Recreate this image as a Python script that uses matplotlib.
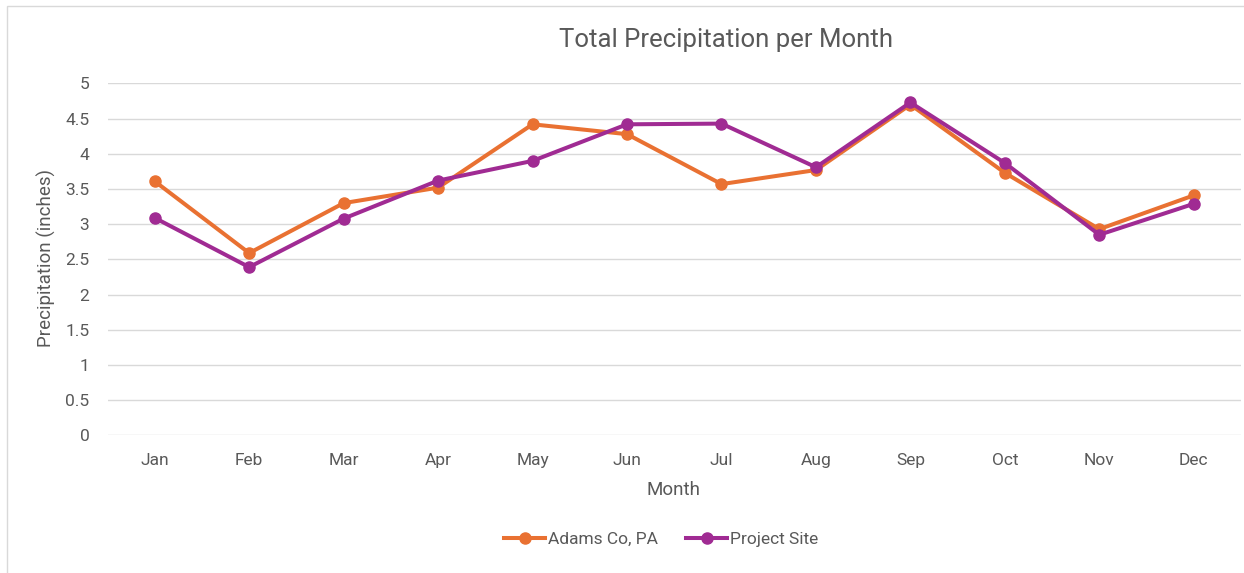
import matplotlib
matplotlib.use("Agg")
import matplotlib.pyplot as plt
from matplotlib.patches import Rectangle

months = ["Jan", "Feb", "Mar", "Apr", "May", "Jun", "Jul", "Aug", "Sep", "Oct", "Nov", "Dec"]
adams = [3.61, 2.59, 3.30, 3.52, 4.42, 4.28, 3.57, 3.77, 4.70, 3.73, 2.93, 3.41]
project = [3.09, 2.39, 3.08, 3.62, 3.90, 4.42, 4.43, 3.81, 4.73, 3.87, 2.85, 3.29]
yticks = [0, 0.5, 1, 1.5, 2, 2.5, 3, 3.5, 4, 4.5, 5]
ytick_labels = ["0", "0.5", "1", "1.5", "2", "2.5", "3", "3.5", "4", "4.5", "5"]

plt.rcParams['font.family'] = ['Roboto', 'DejaVu Sans']
txt = '#595959'

W, H = 1244, 573
fig = plt.figure(figsize=(W / 100, H / 100), dpi=100)
fig.patches.append(Rectangle((7 / W, -0.1), 1.2, (573 - 6) / H + 0.1, transform=fig.transFigure,
                             fill=False, edgecolor='#d9d9d9', linewidth=1))

ax = fig.add_axes([107.5 / W, 1 - 435.3 / H, (1241 - 107.5) / W, (435.3 - 83.5) / H])
x = range(len(months))
ax.plot(x, adams, color='#E97132', lw=2.9, marker='o', ms=8, label='Adams Co, PA', zorder=3)
ax.plot(x, project, color='#A02B93', lw=2.9, marker='o', ms=8, label='Project Site', zorder=4)

ax.set_xlim(-0.5, 11.5)
ax.set_ylim(0, 5)
ax.set_yticks(yticks)
ax.set_yticklabels(ytick_labels)
ax.set_xticks(list(x))
ax.set_xticklabels(months)
ax.grid(axis='y', color='#d9d9d9', lw=1)
ax.set_axisbelow(True)
for s in ax.spines.values():
    s.set_visible(False)
ax.tick_params(axis='both', length=0, colors=txt, labelsize=12.5)
ax.tick_params(axis='y', pad=13)
ax.tick_params(axis='x', pad=13)

fig.text(726 / W, 1 - 40 / H, 'Total Precipitation per Month', ha='center', va='center',
         fontsize=18.5, color=txt)
fig.text(46 / W, 1 - 258 / H, 'Precipitation (inches)', ha='center', va='center',
         rotation=90, fontsize=13.5, color=txt)
fig.text(674 / W, 1 - 490 / H, 'Month', ha='center', va='center', fontsize=13.5, color=txt)

leg = fig.legend(loc='center', bbox_to_anchor=(661 / W, 1 - 539 / H), ncol=2, frameon=False,
                 fontsize=12.5, handlelength=2.4, handletextpad=0.15, columnspacing=1.6,
                 labelcolor=txt)

fig.savefig('out.png', dpi=100)
